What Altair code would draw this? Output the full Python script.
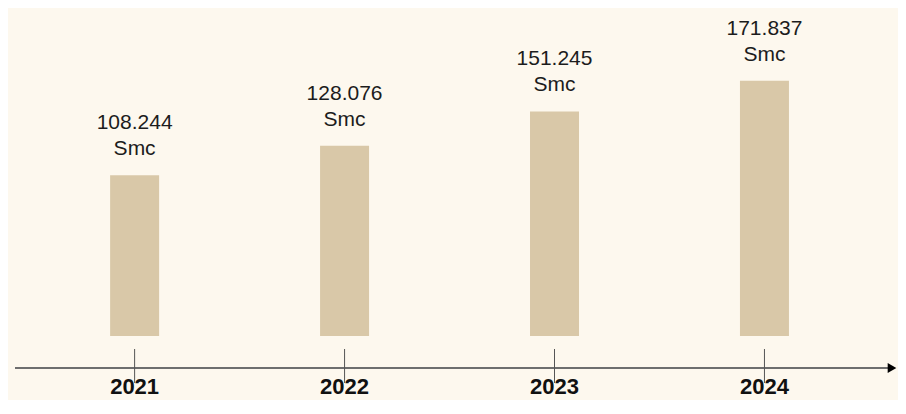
import altair as alt
import pandas as pd

years = [2021, 2022, 2023, 2024]
values = [108.244, 128.076, 151.245, 171.837]
value_labels = ["108.244", "128.076", "151.245", "171.837"]
unit_labels = ["Smc", "Smc", "Smc", "Smc"]
year_labels = ["2021", "2022", "2023", "2024"]

df = pd.DataFrame({
    "year": years,
    "value": values,
    "vlabel": value_labels,
    "unit": unit_labels,
    "ylabel": year_labels,
    "zero": [0] * len(years),
})

FONT = "Liberation Sans"
BG = "#fdf8ee"
BAR = "#d9c8a8"

xs = alt.Scale(domain=[2020.42072, 2024.61224], nice=False, zero=False)
ys = alt.Scale(domain=[-43.098, 220.875], nice=False, zero=False)

base = alt.Chart(df)

bars = base.mark_bar(color=BAR, size=49).encode(
    x=alt.X("year:Q", scale=xs, axis=None),
    y=alt.Y("value:Q", scale=ys, axis=None),
    y2="zero:Q",
)

num_text = base.mark_text(font=FONT, fontSize=21, color="#1c1c1c", baseline="alphabetic", dy=-46).encode(
    x=alt.X("year:Q", scale=xs, axis=None),
    y=alt.Y("value:Q", scale=ys, axis=None),
    text="vlabel:N",
)

unit_text = base.mark_text(font=FONT, fontSize=21, color="#1c1c1c", baseline="alphabetic", dy=-20).encode(
    x=alt.X("year:Q", scale=xs, axis=None),
    y=alt.Y("value:Q", scale=ys, axis=None),
    text="unit:N",
)

ticks = base.mark_rule(color="#555555", strokeWidth=1).encode(
    x=alt.X("year:Q", scale=xs, axis=None),
    y=alt.value(341),
    y2=alt.value(375),
)

year_text = base.mark_text(font=FONT, fontSize=22, fontWeight="bold", color="#111111", baseline="alphabetic").encode(
    x=alt.X("year:Q", scale=xs, axis=None),
    y=alt.value(386),
    text="ylabel:N",
)

one = alt.Chart(pd.DataFrame({"a": [0]}))
axis_line = one.mark_rule(color="#6e6e6e", strokeWidth=2).encode(
    x=alt.value(7), x2=alt.value(882), y=alt.value(360)
)
arrow = one.mark_point(shape="triangle-right", filled=True, color="#000000", size=100, opacity=1).encode(
    x=alt.value(884), y=alt.value(360)
)

chart = alt.layer(bars, axis_line, ticks, arrow, num_text, unit_text, year_text).properties(
    width=890, height=392, padding=0,
    autosize=alt.AutoSizeParams(type="none"),
    background=BG,
).configure_view(stroke=None)

chart.save("out.html", embed_options={"renderer": "svg", "actions": False})
